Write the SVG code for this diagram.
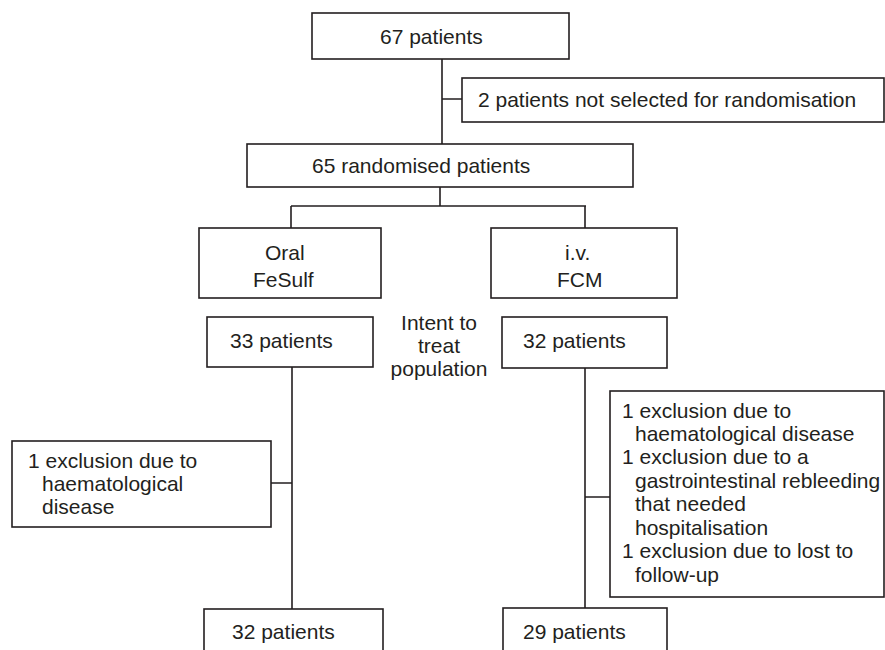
<svg xmlns="http://www.w3.org/2000/svg" width="885" height="650" viewBox="0 0 885 650">
<style>
.box{fill:#fff;stroke:#231f20;stroke-width:1.6}
.ln{fill:none;stroke:#231f20;stroke-width:1.6}
text{font-family:"Liberation Sans",Arial,sans-serif;font-size:21px;fill:#231f20}
</style>
<rect width="885" height="650" fill="#fff"/>
<g id="connectors">
<path class="ln" d="M442 59V144M442 99H462"/>
<path class="ln" d="M440 187V206M291 206H586M291 206V228M585 206V228"/>
<path class="ln" d="M292 367V609M271 483H292"/>
<path class="ln" d="M585 368V608M585 497H610"/>
</g>
<g id="n67"><rect class="box" x="312" y="13" width="257" height="46"/><text x="380" y="44">67 patients</text></g>
<g id="notsel"><rect class="box" x="462" y="78" width="422" height="44"/><text x="478" y="107">2 patients not selected for randomisation</text></g>
<g id="n65"><rect class="box" x="247" y="144" width="386" height="43"/><text x="312" y="173">65 randomised patients</text></g>
<g id="oral"><rect class="box" x="199" y="228" width="182" height="70"/><text x="265" y="260">Oral</text><text x="253" y="287">FeSulf</text></g>
<g id="iv"><rect class="box" x="491" y="228" width="186" height="70"/><text x="565" y="260">i.v.</text><text x="557" y="287">FCM</text></g>
<g id="n33"><rect class="box" x="207" y="317" width="166" height="50"/><text x="230" y="348">33 patients</text></g>
<g id="itt"><text x="439" y="330" text-anchor="middle">Intent to</text><text x="439" y="353" text-anchor="middle">treat</text><text x="439" y="376" text-anchor="middle">population</text></g>
<g id="n32r"><rect class="box" x="502" y="317" width="165" height="51"/><text x="523" y="348">32 patients</text></g>
<g id="exclL"><rect class="box" x="12" y="441" width="259" height="86"/><text x="28" y="468">1 exclusion due to</text><text x="42" y="491">haematological</text><text x="42" y="514">disease</text></g>
<g id="exclR"><rect class="box" x="610" y="391" width="274" height="206"/>
<text x="622" y="418">1 exclusion due to</text>
<text x="635" y="441">haematological disease</text>
<text x="622" y="464">1 exclusion due to a</text>
<text x="635" y="488">gastrointestinal rebleeding</text>
<text x="635" y="511">that needed</text>
<text x="635" y="535">hospitalisation</text>
<text x="622" y="558">1 exclusion due to lost to</text>
<text x="635" y="582">follow-up</text></g>
<g id="n32l"><rect class="box" x="204" y="609" width="179" height="60"/><text x="232" y="639">32 patients</text></g>
<g id="n29"><rect class="box" x="503" y="608" width="164" height="60"/><text x="523" y="639">29 patients</text></g>
</svg>
